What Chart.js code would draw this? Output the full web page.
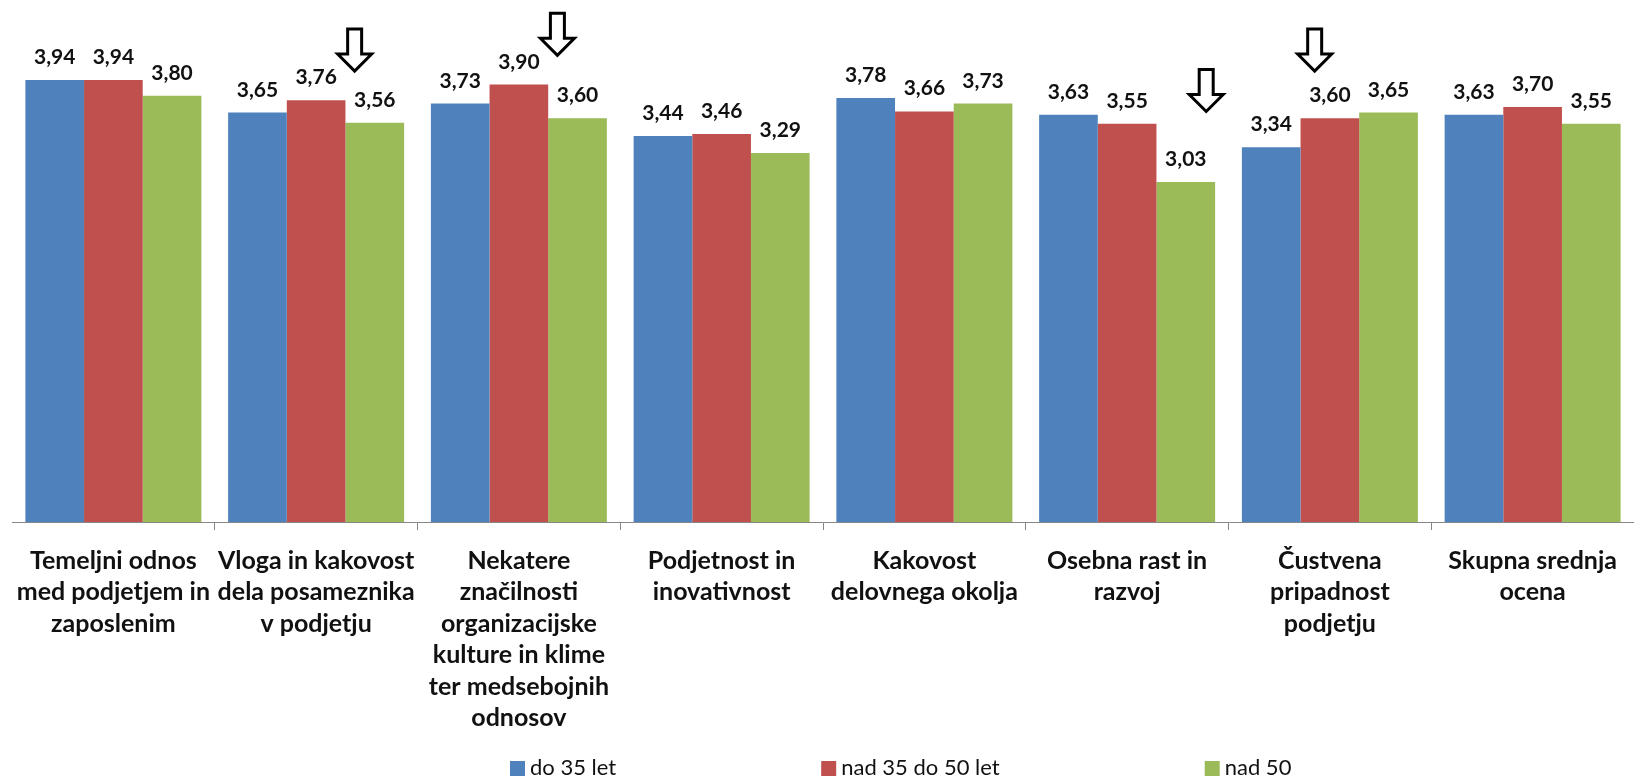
<!DOCTYPE html>
<html>
<head>
<meta charset="utf-8">
<script src="https://cdn.jsdelivr.net/npm/chart.js@4.4.1/dist/chart.umd.min.js"></script>
<style>
  html, body { margin: 0; padding: 0; background: #fff; }
  #wrap { width: 1634px; height: 780px; }
</style>
</head>
<body>
<div id="wrap"><canvas id="myChart" width="1634" height="780"></canvas></div>
<script>
const categories = [
  ["Temeljni odnos", "med podjetjem in", "zaposlenim"],
  ["Vloga in kakovost", "dela posameznika", "v podjetju"],
  ["Nekatere", "značilnosti", "organizacijske", "kulture in klime", "ter medsebojnih", "odnosov"],
  ["Podjetnost in", "inovativnost"],
  ["Kakovost", "delovnega okolja"],
  ["Osebna rast in", "razvoj"],
  ["Čustvena", "pripadnost", "podjetju"],
  ["Skupna srednja", "ocena"],
];

const seriesNames = ["do 35 let", "nad 35 do 50 let", "nad 50"];
const do35 = [3.94, 3.65, 3.73, 3.44, 3.78, 3.63, 3.34, 3.63];
const nad35do50 = [3.94, 3.76, 3.90, 3.46, 3.66, 3.55, 3.60, 3.70];
const nad50 = [3.80, 3.56, 3.60, 3.29, 3.73, 3.03, 3.65, 3.55];
const seriesColors = ["#4F81BD", "#C0504D", "#9BBB59"];

// hollow arrows: position on category axis and value at arrow tip
const arrowCats = [1.19, 2.19, 5.39, 5.925];
const arrowTips = [4.02, 4.16, 3.66, 4.02];

const fmt = (v) => v.toFixed(2).replace(".", ",");

const barLabels = {
  id: "barLabels",
  afterDatasetsDraw(chart) {
    const ctx = chart.ctx;
    ctx.save();
    ctx.font = "bold 21px Lato";
    ctx.fillStyle = "#111";
    ctx.textAlign = "center";
    ctx.textBaseline = "alphabetic";
    chart.data.datasets.forEach((ds, i) => {
      chart.getDatasetMeta(i).data.forEach((bar, j) => {
        ctx.fillText(fmt(ds.data[j]), bar.x, bar.y - 16);
      });
    });
    ctx.restore();
  },
};

const arrows = {
  id: "arrows",
  afterDraw(chart) {
    const ctx = chart.ctx;
    const xs = chart.scales.x;
    const ys = chart.scales.y;
    ctx.save();
    ctx.strokeStyle = "#000";
    ctx.fillStyle = "#fff";
    ctx.lineWidth = 3;
    ctx.lineJoin = "miter";
    arrowCats.forEach((c, i) => {
      const x = xs.getPixelForValue(c);
      const tip = ys.getPixelForValue(arrowTips[i]);
      ctx.beginPath();
      ctx.moveTo(x - 7, tip - 42);
      ctx.lineTo(x + 7, tip - 42);
      ctx.lineTo(x + 7, tip - 17);
      ctx.lineTo(x + 17, tip - 17);
      ctx.lineTo(x, tip);
      ctx.lineTo(x - 17, tip - 17);
      ctx.lineTo(x - 7, tip - 17);
      ctx.closePath();
      ctx.fill();
      ctx.stroke();
    });
    ctx.restore();
  },
};

const bottomLegend = {
  id: "bottomLegend",
  afterDraw(chart) {
    const ctx = chart.ctx;
    ctx.save();
    ctx.font = "22px Lato";
    ctx.textBaseline = "middle";
    ctx.textAlign = "left";
    let x = 510;
    const y = 768;
    chart.data.datasets.forEach((ds) => {
      ctx.fillStyle = ds.backgroundColor;
      ctx.fillRect(x, y - 7, 15, 15);
      ctx.fillStyle = "#111";
      ctx.fillText(ds.label, x + 20, y);
      x += 20 + ctx.measureText(ds.label).width + 205;
    });
    ctx.restore();
  },
};

const ctx = document.getElementById("myChart").getContext("2d");
const myChart = new Chart(ctx, {
  type: "bar",
  data: {
    labels: categories,
    datasets: [do35, nad35do50, nad50].map((values, i) => ({
      label: seriesNames[i],
      data: values,
      backgroundColor: seriesColors[i],
      borderWidth: 0,
      categoryPercentage: 0.868,
      barPercentage: 1,
    })),
  },
  options: {
    responsive: false,
    animation: false,
    layout: { padding: { top: 6, left: 12, right: 0, bottom: 0 } },
    plugins: {
      legend: { display: false },
      tooltip: { enabled: false },
    },
    scales: {
      x: {
        grid: {
          drawOnChartArea: false,
          drawTicks: true,
          tickLength: 8,
          color: (c) => (c.index === 0 ? "rgba(0,0,0,0)" : "#868686"),
          offset: true,
        },
        border: { display: true, color: "#868686" },
        ticks: {
          color: "#111",
          font: { family: "Lato", weight: "bold", size: 25, lineHeight: "31.5px" },
          padding: 15,
          maxRotation: 0,
          autoSkip: false,
        },
        afterFit: (scale) => {
          scale.height = 258;
        },
      },
      y: { display: false, min: 0, max: 4.6 },
    },
  },
  plugins: [barLabels, arrows, bottomLegend],
});
</script>
</body>
</html>
